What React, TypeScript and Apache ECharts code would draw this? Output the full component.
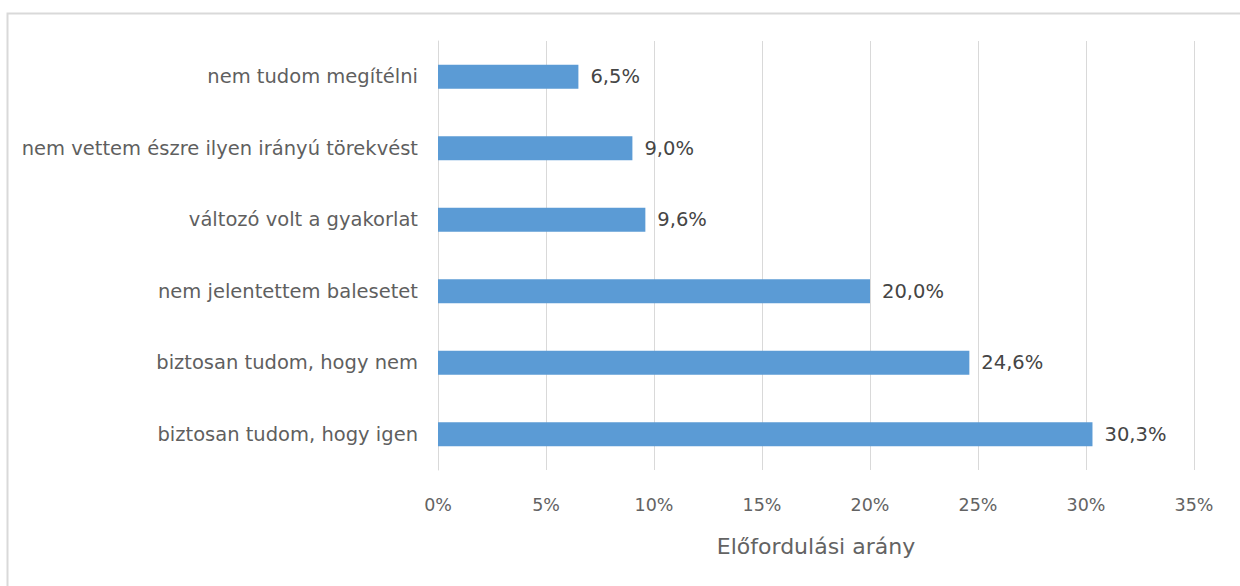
import React, { useEffect, useRef } from "react";
import * as echarts from "echarts";

const categories = [
  "nem tudom megítélni",
  "nem vettem észre ilyen irányú törekvést",
  "változó volt a gyakorlat",
  "nem jelentettem balesetet",
  "biztosan tudom, hogy nem",
  "biztosan tudom, hogy igen",
];
const values = [6.5, 9.0, 9.6, 20.0, 24.6, 30.3];
const axisTitle = "Előfordulási arány";

const FONT = "'DejaVu Sans', sans-serif";

export default function App() {
  const ref = useRef<HTMLDivElement>(null);
  useEffect(() => {
    if (!ref.current) return;
    const chart = echarts.init(ref.current, undefined, { renderer: "svg" });
    chart.setOption({
      animation: false,
      backgroundColor: "#ffffff",
      graphic: [
        {
          type: "rect",
          shape: { x: 7.5, y: 13.5, width: 1260, height: 600 },
          style: { fill: "none", stroke: "#d9d9d9", lineWidth: 2 },
          silent: true,
        },
      ],
      grid: { left: 438, right: 46, top: 41, bottom: 116, containLabel: false },
      xAxis: {
        type: "value",
        min: 0,
        max: 35,
        interval: 5,
        axisLine: { show: false },
        axisTick: { show: false },
        splitLine: { show: true, lineStyle: { color: "#d9d9d9", width: 1 } },
        axisLabel: {
          formatter: (v: number) => `${v}%`,
          color: "#636363",
          fontSize: 17.5,
          fontFamily: FONT,
          margin: 26,
        },
        name: axisTitle,
        nameLocation: "middle",
        nameGap: 65,
        nameTextStyle: { color: "#636363", fontSize: 22, fontFamily: FONT },
      },
      yAxis: {
        type: "category",
        data: categories,
        inverse: true,
        axisLine: { show: true, lineStyle: { color: "#d9d9d9" } },
        axisTick: { show: false },
        axisLabel: {
          color: "#5f5f5f",
          fontSize: 19.5,
          fontFamily: FONT,
          margin: 20,
        },
      },
      series: [
        {
          type: "bar",
          data: values,
          barWidth: 24,
          itemStyle: { color: "#5b9bd5" },
          label: {
            show: true,
            position: "right",
            distance: 12,
            color: "#454545",
            fontSize: 19.5,
            fontFamily: FONT,
            formatter: (p: any) => `${Number(p.value).toFixed(1).replace(".", ",")}%`,
          },
        },
      ],
    });
    return () => chart.dispose();
  }, []);
  return (
    <div
      ref={ref}
      style={{ position: "fixed", left: 0, top: 0, width: 1240, height: 586 }}
    />
  );
}
